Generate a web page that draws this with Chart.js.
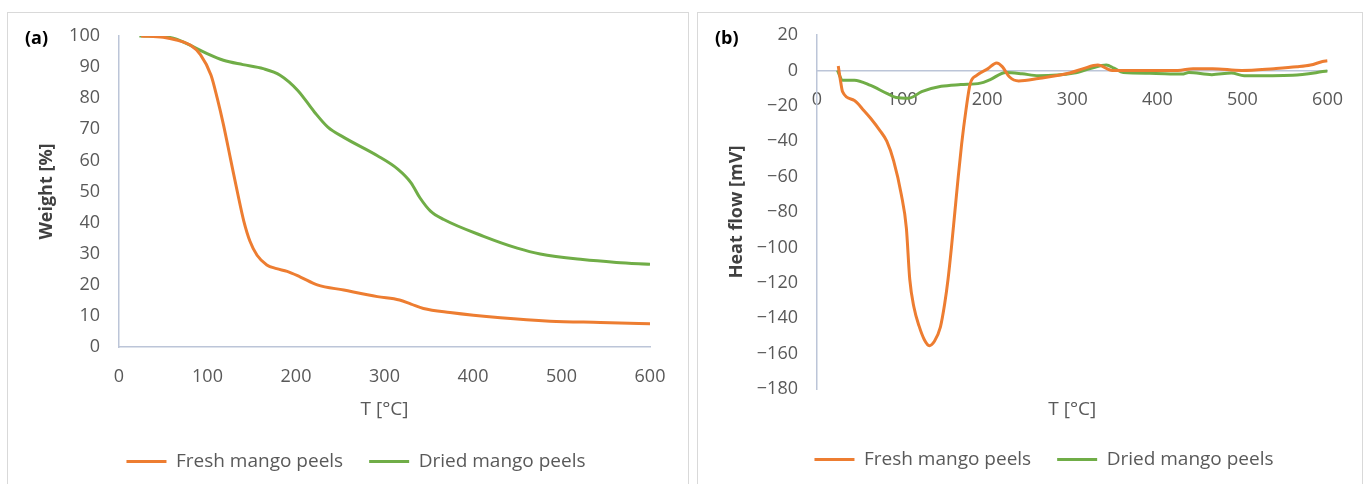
<!DOCTYPE html>
<html>
<head>
<meta charset="utf-8">
<script src="https://cdn.jsdelivr.net/npm/chart.js@4.4.1/dist/chart.umd.min.js"></script>
<style>
  body { margin: 0; background: #fff; width: 1365px; height: 484px; overflow: hidden; position: relative; font-family: "Open Sans", sans-serif; }
  .panel { position: absolute; top: 12px; height: 472px; border: 1px solid #d9d9d9; border-bottom: none; }
  #panelA { left: 7px; width: 680px; }
  #panelB { left: 697px; width: 664px; }
  .tag { position: absolute; top: 13px; left: 17px; font-size: 18px; line-height: 22px; font-weight: bold; color: #000; }
</style>
</head>
<body>
<div class="panel" id="panelA"><canvas id="chartTga"></canvas><div class="tag">(a)</div></div>
<div class="panel" id="panelB"><canvas id="chartDta"></canvas><div class="tag">(b)</div></div>
<script>
// (a) weight loss
const tempFreshA = [25, 50, 65, 81, 92, 104, 111, 118, 126, 134, 141, 148, 156, 167, 178, 190, 205, 224, 254, 292, 317, 330, 344, 374, 431, 487, 544, 600];
const weightFresh = [100, 99.6, 98.7, 97, 94, 87.4, 80, 71.5, 60.5, 49.5, 40.5, 34, 29.5, 26.4, 25.2, 24.3, 22.5, 20, 18.3, 16.2, 15.1, 13.8, 12.4, 11.1, 9.4, 8.3, 7.9, 7.5];
const tempDriedA = [23, 50, 65, 76, 99, 118, 140, 163, 182, 202, 221, 236, 254, 292, 315, 330, 340, 352, 367, 412, 450, 476, 524, 562, 600];
const weightDried = [100, 99.8, 99, 97.6, 94.4, 92.2, 90.8, 89.5, 87.4, 82.5, 75.5, 70.7, 67.4, 61.5, 57.2, 52.8, 48, 43.7, 41, 35.6, 31.8, 29.9, 28.1, 27.2, 26.6];

// (b) heat flow
const tempFreshB = [25, 28, 30, 44, 55, 63, 74, 82, 90, 99, 105, 109, 114, 120, 126, 132, 138, 145, 150, 154, 158, 162, 166, 170, 175, 180, 188, 201, 211, 218, 226, 237, 260, 298, 313, 330, 347, 366, 424, 442, 465, 499, 537, 564, 580, 594, 600];
const heatFresh = [2.5, -7, -12, -17, -22.6, -27, -34, -40, -51, -70, -89, -118, -134, -144.5, -152, -155.5, -153, -145, -132, -118, -100, -80, -60, -41.5, -22.6, -7.6, -2.7, 1, 4.2, 2, -3.6, -6, -4.6, -1.3, 1, 3, 0, 0, 0, 1, 1, 0, 1, 2, 3, 5, 5.5];
const tempDriedB = [24, 30, 44, 63, 82, 93, 108, 123, 146, 169, 192, 203, 222, 241, 260, 302, 321, 340, 349, 360, 391, 429, 437, 464, 487, 502, 559, 600];
const heatDried = [0, -5.5, -5.5, -8.5, -13, -15.3, -15.7, -12, -9, -8, -7.2, -5.3, -1.2, -1.9, -3, -1.5, 1, 3, 1.3, -1.2, -1.6, -2.1, -1.2, -2.4, -1.5, -3, -2.7, -0.4];

const seriesNames = ['Fresh mango peels', 'Dried mango peels'];
const orange = '#ed7d31';
const green = '#70ad47';
const axisColor = '#bcc5d8';
const textColor = '#595959';
const fam = '"Open Sans", sans-serif';

const toPoints = (xs, ys) => xs.map((x, i) => ({x: x, y: ys[i]}));
const minus = v => String(v).replace('-', '\u2212');

const lineSet = (label, color, pts) => ({
  label: label,
  data: pts,
  borderColor: color,
  backgroundColor: color,
  borderWidth: 3,
  pointRadius: 0,
  cubicInterpolationMode: 'monotone',
  fill: false
});

const legendOpts = {
  position: 'bottom',
  labels: {
    usePointStyle: true,
    pointStyle: 'line',
    pointStyleWidth: 40,
    color: textColor,
    font: {family: fam, size: 19},
    padding: 26
  }
};

// move the legend sideways a bit, like the excel one
const legendShift = dx => ({
  id: 'legendShift',
  afterLayout(chart) {
    chart.legend.left += dx;
    chart.legend.right += dx;
  }
});

// the tick padding should not push the plot area down
const yFit = w => s => {
  s.width = w;
  s.paddingTop = 10;
  s.paddingBottom = 10;
};

//chart (a) - TGA
new Chart(document.getElementById('chartTga'), {
  type: 'line',
  data: {
    datasets: [
      lineSet(seriesNames[0], orange, toPoints(tempFreshA, weightFresh)),
      lineSet(seriesNames[1], green, toPoints(tempDriedA, weightDried))
    ]
  },
  options: {
    responsive: true,
    maintainAspectRatio: false,
    animation: false,
    layout: {padding: {top: 23, right: 38, bottom: 4, left: 0}},
    plugins: {legend: legendOpts, tooltip: {enabled: false}},
    scales: {
      x: {
        type: 'linear', min: 0, max: 600,
        ticks: {stepSize: 100, padding: 19, color: textColor, font: {family: fam, size: 18}},
        grid: {display: false, drawTicks: false},
        border: {color: axisColor, width: 1.5},
        title: {display: true, text: 'T [°C]', color: textColor, font: {family: fam, size: 19}, padding: {top: 0, bottom: 5}},
        afterFit: s => { s.height = 79; }
      },
      y: {
        min: 0, max: 100,
        ticks: {stepSize: 10, padding: 19, color: textColor, font: {family: fam, size: 18}},
        grid: {display: false, drawTicks: false},
        border: {color: axisColor, width: 1.5},
        title: {display: true, text: 'Weight [%]', color: '#404040', font: {family: fam, size: 18, weight: 'bold'}, padding: {top: 28, bottom: 0}},
        afterFit: yFit(111)
      }
    }
  },
  plugins: [legendShift(27)]
});

//chart (b) - heat flow
new Chart(document.getElementById('chartDta'), {
  type: 'line',
  data: {
    datasets: [
      lineSet(seriesNames[0], orange, toPoints(tempFreshB, heatFresh)),
      lineSet(seriesNames[1], green, toPoints(tempDriedB, heatDried))
    ]
  },
  options: {
    responsive: true,
    maintainAspectRatio: false,
    animation: false,
    layout: {padding: {top: 22, right: 22, bottom: 6, left: 0}},
    plugins: {legend: legendOpts, tooltip: {enabled: false}},
    scales: {
      x: {
        type: 'linear', min: 0, max: 600,
        position: {y: 0},
        ticks: {stepSize: 100, padding: 19, color: textColor, font: {family: fam, size: 18}},
        grid: {display: false, drawTicks: false},
        border: {color: axisColor, width: 1.5}
      },
      x2: {
        type: 'linear', min: 0, max: 600, position: 'bottom',
        ticks: {display: false},
        grid: {display: false, drawTicks: false},
        border: {display: false},
        title: {display: true, text: 'T [°C]', color: textColor, font: {family: fam, size: 19}, padding: {top: 0, bottom: 3}},
        afterFit: s => { s.height = 35; }
      },
      y: {
        min: -180, max: 20,
        ticks: {stepSize: 20, padding: 19, color: textColor, font: {family: fam, size: 18}, callback: minus},
        grid: {display: false, drawTicks: false},
        border: {color: axisColor, width: 1.5},
        title: {display: true, text: 'Heat flow [mV]', color: '#404040', font: {family: fam, size: 18, weight: 'bold'}, padding: {top: 28, bottom: 0}},
        afterFit: yFit(119)
      }
    }
  },
  plugins: [legendShift(25)]
});
</script>
</body>
</html>
